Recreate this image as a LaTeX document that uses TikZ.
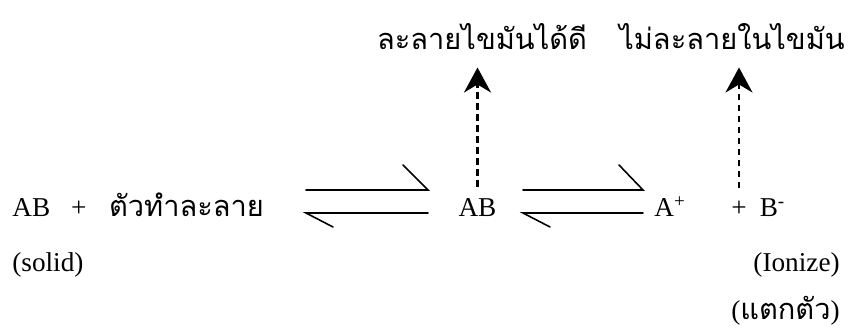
\documentclass[tikz,border=0pt]{standalone}
\usepackage{fontspec}
\setmainfont{Liberation Serif}
\newfontfamily\thaifont[Script=Thai]{Loma}
\usepackage{xcolor}
\usetikzlibrary{arrows.meta, positioning, calc}
\definecolor{InkBlack}{RGB}{0,0,0}
\newcommand{\thtxt}[1]{{\thaifont\fontsize{16.5}{20}\selectfont #1}}
\tikzset{
  chem/.style={inner sep=0pt, anchor=base, font=\fontsize{15.5}{18}\selectfont, text=InkBlack},
  thai/.style={inner sep=0pt, anchor=base, font=\fontsize{16.5}{20}\selectfont\thaifont, text=InkBlack},
  harp/.style={draw=InkBlack, line width=0.9pt, line cap=round},
  darr/.style={-{Stealth[length=5mm, width=5.4mm, inset=1.6mm]}, draw=InkBlack,
    line width=1.2pt, dash pattern=on 1.3mm off 0.9mm}
}

\begin{document}
\begin{tikzpicture}
  \useasboundingbox (0,0) rectangle (17.08,6.7);

  % Reaction row
  \node[chem, anchor=base west] (lhs) at (0.24,2.36)
       {AB\hspace{0.42cm}+\hspace{0.45cm}\thtxt{ตัวทำละลาย}};
  \node[chem] (mid) at (9.55,2.36) {AB};
  \node[chem] (aion) at (13.4,2.36) {A\textsuperscript{+}};
  \node[chem] (plus) at (14.78,2.36) {+};
  \node[chem] (bion) at (15.45,2.36) {B\textsuperscript{-}};

  % Labels
  \node[thai] (top1) at (9.64,5.7) {ละลายไขมันได้ดี};
  \node[thai] (top2) at (14.64,5.7) {ไม่ละลายในไขมัน};
  \node[chem, anchor=base west] (solid) at (0.24,1.26) {(solid)};
  \node[chem, anchor=base east] (ionz) at (16.8,1.26) {(Ionize)};
  \node[chem, anchor=base east] (brk) at (16.8,0.3) {(\thtxt{แตกตัว})};

  % Harpoon ends
  \coordinate (f1s) at (6.12,2.9);  \coordinate (f1e) at (8.56,2.9);
  \coordinate (b1s) at (8.56,2.44); \coordinate (b1e) at (6.12,2.44);
  \coordinate (f2s) at (10.46,2.9); \coordinate (f2e) at (12.86,2.9);
  \coordinate (b2s) at (12.86,2.44); \coordinate (b2e) at (10.46,2.44);

  % Equilibria
  \draw[harp] (f1s) -- (f1e) -- ++(-0.5,0.5);
  \draw[harp] (b1s) -- (b1e) -- ++(0.54,-0.28);
  \draw[harp] (f2s) -- (f2e) -- ++(-0.48,0.5);
  \draw[harp] (b2s) -- (b2e) -- ++(0.54,-0.28);

  % Dashed arrows
  \draw[darr] ([yshift=2.4mm]mid.north) -- ([yshift=-3.4mm]mid.north |- top1.south);
  \draw[darr] ([yshift=2.6mm]plus.north) -- ([yshift=-3.4mm]plus.north |- top2.south);
\end{tikzpicture}
\end{document}
